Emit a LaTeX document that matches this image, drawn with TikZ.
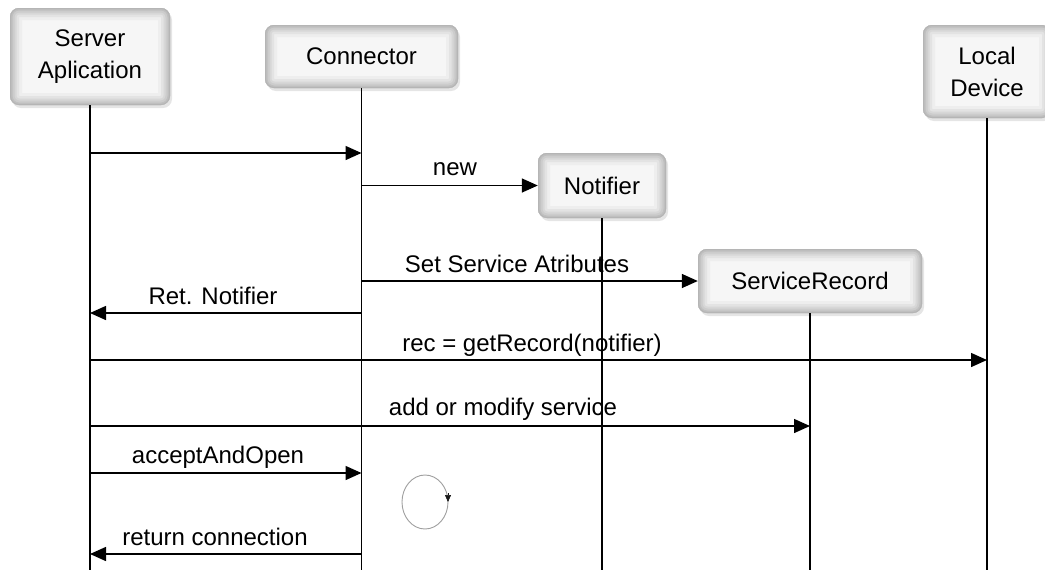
\documentclass[tikz,border=0pt]{standalone}
\usepackage{fontspec}
\setmainfont{Liberation Sans}
\usetikzlibrary{arrows.meta,shadows}

\newcommand{\edgeband}[2]{%
  \draw[rounded corners=9pt, line width=#1, #2]
    (path picture bounding box.south west) rectangle (path picture bounding box.north east);}

\tikzset{
  x=1pt, y=-1pt,
  obj/.style={
    rounded corners=9pt, fill=gray!7, align=center, inner sep=0pt,
    font=\fontsize{24}{32}\selectfont,
    drop shadow={shadow xshift=2pt, shadow yshift=-3pt, opacity=0.2, fill=gray},
    path picture={
      \edgeband{24pt}{gray!13}
      \edgeband{18pt}{gray!22}
      \edgeband{13pt}{gray!31}
      \edgeband{9pt}{gray!40}
      \edgeband{5pt}{gray!50}
      \edgeband{2pt}{gray!58}
    }
  },
  life/.style={line width=1.5pt, black},
  msg/.style={line width=1.5pt, black, -{Triangle[length=16pt,width=14pt]}},
  lbl/.style={font=\fontsize{24}{28}\selectfont, inner sep=0pt}
}

\begin{document}
\begin{tikzpicture}
\useasboundingbox (0,0) rectangle (1045,574);
\fill[white] (0,0) rectangle (1045,574);

% participants
\node[obj, minimum width=160pt, minimum height=97pt] (srv) at (90,56.5) {Server\\Aplication};
\node[obj, minimum width=193pt, minimum height=63pt] (con) at (361.5,56.5) {Connector};
\node[obj, minimum width=128pt, minimum height=65pt] (not) at (602,185.5) {Notifier};
\node[obj, minimum width=224pt, minimum height=64pt] (rec) at (810,281) {ServiceRecord};
\node[obj, minimum width=128pt, minimum height=93pt] (loc) at (987,71.5) {Local\\Device};

% message levels and the bottom of the lifelines
\coordinate (bot) at (0,570);
\coordinate (y1) at (0,153);
\coordinate (y4) at (0,313);
\coordinate (y5) at (0,360);
\coordinate (y6) at (0,426);
\coordinate (y7) at (0,473);
\coordinate (y8) at (0,554);

% lifelines
\draw[life] (srv.south) -- (srv.south |- bot);
\draw[life] (con.south) -- (con.south |- bot);
\draw[life] (not.south) -- (not.south |- bot);
\draw[life] (rec.south) -- (rec.south |- bot);
\draw[life] (loc.south) -- (loc.south |- bot);

% messages
\draw[msg] (srv |- y1) -- (con |- y1);
\draw[msg] (con |- not.west) -- (not.west);
\draw[msg] (con |- rec.west) -- (rec.west);
\draw[msg] (con |- y4) -- (srv |- y4);
\draw[msg] (srv |- y5) -- (loc |- y5);
\draw[msg] (srv |- y6) -- (rec |- y6);
\draw[msg] (srv |- y7) -- (con |- y7);
\draw[msg] (con |- y8) -- (srv |- y8);

% message labels
\node[lbl] (l2) at (455,169) {new};
\node[lbl] (l3) at (517,264) {Set Service Atributes};
\node[lbl] (l4) at (213,296) {Ret. Notifier};
\node[lbl] (l5) at (532,345) {rec = getRecord(notifier)};
\node[lbl] (l6) at (503,409) {add or modify service};
\node[lbl] (l7) at (218,457) {acceptAndOpen};
\node[lbl] (l8) at (215,537) {return connection};

% self loop on the connector
\draw[gray!75, line width=0.9pt] (425,502) ellipse [x radius=23, y radius=27];
\draw[gray!20!black, line width=0.6pt, -{Triangle[length=7pt,width=6pt]}] (448,493) -- (448,502);
\end{tikzpicture}
\end{document}
